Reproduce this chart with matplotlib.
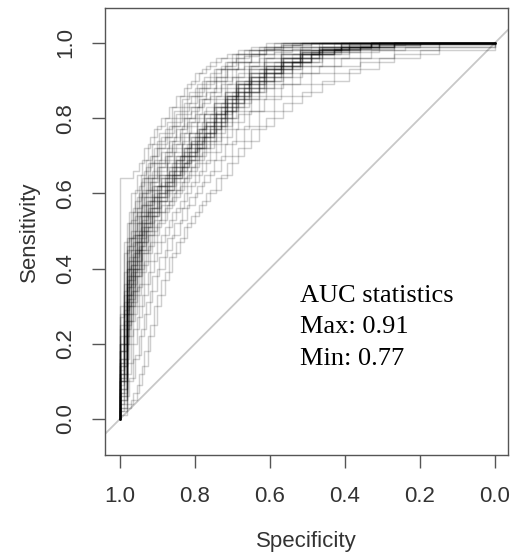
import matplotlib
matplotlib.use("Agg")
import matplotlib.pyplot as plt

# Specificity grids (three grids, step positions)
spec_grid_a = [1.00, 0.98, 0.965, 0.95, 0.935, 0.92, 0.90, 0.88, 0.86, 0.84, 0.82, 0.80, 0.78,
               0.76, 0.73, 0.70, 0.67, 0.63, 0.59, 0.54, 0.49, 0.43, 0.36, 0.27, 0.15, 0.00]
spec_grid_b = [1.00, 0.98, 0.97, 0.955, 0.94, 0.925, 0.91, 0.89, 0.87, 0.85, 0.83, 0.81, 0.79,
               0.77, 0.745, 0.715, 0.685, 0.65, 0.61, 0.565, 0.515, 0.46, 0.39, 0.31, 0.20, 0.00]
spec_grid_c = [1.00, 0.99, 0.975, 0.96, 0.945, 0.93, 0.915, 0.895, 0.875, 0.855, 0.835, 0.815, 0.795,
               0.775, 0.75, 0.72, 0.69, 0.655, 0.615, 0.57, 0.52, 0.47, 0.41, 0.33, 0.24, 0.00]

# Sensitivity of each bootstrap ROC curve at the grid specificities
sens_a = [
    [0.64, 0.64, 0.66, 0.68, 0.72, 0.75, 0.78, 0.80, 0.83, 0.86, 0.89, 0.92, 0.93, 0.95, 0.96, 0.97, 0.98, 0.99, 1.0, 1.0, 1.0, 1.0, 1.0, 1.0, 1.0, 1.0],
    [0.20, 0.45, 0.55, 0.60, 0.64, 0.68, 0.72, 0.75, 0.78, 0.80, 0.83, 0.86, 0.88, 0.90, 0.93, 0.95, 0.965, 0.98, 0.99, 0.995, 1.0, 1.0, 1.0, 1.0, 1.0, 1.0],
    [0.10, 0.30, 0.40, 0.47, 0.52, 0.56, 0.60, 0.63, 0.65, 0.68, 0.70, 0.73, 0.75, 0.78, 0.82, 0.85, 0.88, 0.91, 0.93, 0.95, 0.97, 0.98, 0.99, 1.0, 1.0, 1.0],
    [0.05, 0.22, 0.30, 0.36, 0.42, 0.47, 0.52, 0.56, 0.59, 0.62, 0.65, 0.68, 0.71, 0.74, 0.78, 0.82, 0.85, 0.88, 0.91, 0.94, 0.96, 0.975, 0.985, 0.995, 1.0, 1.0],
    [0.02, 0.04, 0.07, 0.12, 0.18, 0.25, 0.33, 0.39, 0.44, 0.48, 0.52, 0.55, 0.58, 0.61, 0.65, 0.70, 0.74, 0.78, 0.82, 0.86, 0.89, 0.92, 0.95, 0.97, 0.99, 1.0],
    [0.15, 0.38, 0.47, 0.54, 0.59, 0.63, 0.67, 0.70, 0.73, 0.76, 0.79, 0.81, 0.84, 0.86, 0.89, 0.91, 0.94, 0.96, 0.975, 0.985, 0.99, 1.0, 1.0, 1.0, 1.0, 1.0],
    [0.18, 0.33, 0.43, 0.49, 0.54, 0.58, 0.62, 0.64, 0.67, 0.70, 0.72, 0.75, 0.77, 0.79, 0.83, 0.86, 0.89, 0.92, 0.94, 0.96, 0.975, 0.985, 0.99, 1.0, 1.0, 1.0],
    [0.08, 0.26, 0.34, 0.40, 0.45, 0.50, 0.55, 0.58, 0.61, 0.64, 0.67, 0.70, 0.72, 0.75, 0.79, 0.83, 0.86, 0.89, 0.92, 0.95, 0.97, 0.98, 0.99, 1.0, 1.0, 1.0],
    [0.28, 0.48, 0.56, 0.62, 0.66, 0.70, 0.74, 0.77, 0.80, 0.83, 0.86, 0.88, 0.90, 0.92, 0.94, 0.96, 0.97, 0.98, 0.99, 1.0, 1.0, 1.0, 1.0, 1.0, 1.0, 1.0],
    [0.12, 0.36, 0.44, 0.50, 0.55, 0.59, 0.62, 0.65, 0.68, 0.70, 0.73, 0.76, 0.79, 0.81, 0.84, 0.87, 0.90, 0.93, 0.95, 0.97, 0.98, 0.99, 1.0, 1.0, 1.0, 1.0],
    [0.04, 0.15, 0.24, 0.30, 0.36, 0.42, 0.47, 0.51, 0.55, 0.58, 0.62, 0.65, 0.68, 0.71, 0.75, 0.79, 0.82, 0.86, 0.89, 0.92, 0.94, 0.96, 0.98, 0.99, 1.0, 1.0],
    [0.14, 0.31, 0.40, 0.46, 0.51, 0.55, 0.59, 0.62, 0.65, 0.67, 0.70, 0.72, 0.75, 0.77, 0.80, 0.84, 0.87, 0.90, 0.92, 0.95, 0.97, 0.98, 0.99, 1.0, 1.0, 1.0],
    [0.22, 0.40, 0.49, 0.55, 0.60, 0.64, 0.68, 0.71, 0.74, 0.77, 0.80, 0.83, 0.85, 0.87, 0.90, 0.93, 0.95, 0.97, 0.98, 0.99, 1.0, 1.0, 1.0, 1.0, 1.0, 1.0],
    [0.03, 0.10, 0.16, 0.22, 0.28, 0.34, 0.40, 0.45, 0.49, 0.53, 0.57, 0.60, 0.63, 0.66, 0.70, 0.74, 0.78, 0.82, 0.86, 0.89, 0.92, 0.94, 0.96, 0.98, 0.995, 1.0],
    [0.10, 0.28, 0.38, 0.45, 0.50, 0.54, 0.58, 0.61, 0.64, 0.66, 0.69, 0.72, 0.74, 0.77, 0.81, 0.84, 0.87, 0.90, 0.93, 0.95, 0.97, 0.985, 0.99, 1.0, 1.0, 1.0],
]
sens_b = [
    [0.10, 0.35, 0.42, 0.49, 0.54, 0.58, 0.62, 0.65, 0.67, 0.70, 0.72, 0.75, 0.77, 0.80, 0.83, 0.86, 0.89, 0.92, 0.94, 0.96, 0.975, 0.985, 0.995, 1.0, 1.0, 1.0],
    [0.16, 0.40, 0.48, 0.55, 0.60, 0.64, 0.68, 0.71, 0.74, 0.77, 0.80, 0.82, 0.85, 0.87, 0.90, 0.93, 0.95, 0.97, 0.98, 0.99, 1.0, 1.0, 1.0, 1.0, 1.0, 1.0],
    [0.06, 0.24, 0.31, 0.38, 0.44, 0.49, 0.53, 0.57, 0.60, 0.63, 0.66, 0.69, 0.72, 0.74, 0.78, 0.82, 0.85, 0.88, 0.91, 0.94, 0.96, 0.975, 0.99, 0.995, 1.0, 1.0],
    [0.25, 0.46, 0.53, 0.59, 0.64, 0.68, 0.72, 0.75, 0.78, 0.81, 0.84, 0.86, 0.88, 0.90, 0.93, 0.95, 0.97, 0.98, 0.99, 1.0, 1.0, 1.0, 1.0, 1.0, 1.0, 1.0],
    [0.12, 0.30, 0.39, 0.45, 0.50, 0.55, 0.59, 0.62, 0.65, 0.67, 0.70, 0.73, 0.75, 0.78, 0.81, 0.85, 0.88, 0.91, 0.93, 0.95, 0.97, 0.985, 0.99, 1.0, 1.0, 1.0],
    [0.03, 0.12, 0.20, 0.27, 0.33, 0.39, 0.44, 0.49, 0.53, 0.56, 0.60, 0.63, 0.66, 0.69, 0.73, 0.77, 0.81, 0.85, 0.88, 0.91, 0.94, 0.96, 0.975, 0.99, 1.0, 1.0],
    [0.20, 0.37, 0.45, 0.52, 0.57, 0.61, 0.65, 0.68, 0.71, 0.73, 0.76, 0.79, 0.81, 0.83, 0.86, 0.89, 0.92, 0.94, 0.96, 0.98, 0.99, 1.0, 1.0, 1.0, 1.0, 1.0],
    [0.08, 0.28, 0.36, 0.42, 0.47, 0.52, 0.56, 0.60, 0.63, 0.66, 0.68, 0.71, 0.74, 0.76, 0.80, 0.84, 0.87, 0.90, 0.92, 0.95, 0.97, 0.98, 0.99, 1.0, 1.0, 1.0],
    [0.01, 0.03, 0.05, 0.09, 0.14, 0.22, 0.30, 0.37, 0.43, 0.47, 0.51, 0.54, 0.57, 0.60, 0.64, 0.68, 0.72, 0.77, 0.80, 0.84, 0.87, 0.90, 0.93, 0.96, 0.98, 1.0],
    [0.14, 0.33, 0.41, 0.48, 0.53, 0.57, 0.61, 0.64, 0.66, 0.69, 0.72, 0.74, 0.77, 0.79, 0.82, 0.86, 0.89, 0.91, 0.94, 0.96, 0.975, 0.99, 1.0, 1.0, 1.0, 1.0],
    [0.30, 0.52, 0.60, 0.65, 0.69, 0.73, 0.77, 0.80, 0.83, 0.86, 0.88, 0.90, 0.92, 0.94, 0.96, 0.97, 0.98, 0.99, 1.0, 1.0, 1.0, 1.0, 1.0, 1.0, 1.0, 1.0],
    [0.05, 0.20, 0.28, 0.35, 0.41, 0.46, 0.51, 0.55, 0.58, 0.61, 0.64, 0.67, 0.70, 0.73, 0.77, 0.80, 0.84, 0.87, 0.90, 0.93, 0.95, 0.97, 0.985, 0.995, 1.0, 1.0],
    [0.11, 0.32, 0.41, 0.47, 0.52, 0.56, 0.60, 0.63, 0.66, 0.69, 0.71, 0.74, 0.76, 0.79, 0.83, 0.86, 0.89, 0.92, 0.94, 0.96, 0.98, 0.99, 1.0, 1.0, 1.0, 1.0],
    [0.18, 0.42, 0.50, 0.56, 0.61, 0.65, 0.69, 0.72, 0.75, 0.78, 0.81, 0.83, 0.86, 0.88, 0.91, 0.93, 0.95, 0.97, 0.985, 0.995, 1.0, 1.0, 1.0, 1.0, 1.0, 1.0],
    [0.07, 0.25, 0.34, 0.41, 0.47, 0.51, 0.55, 0.59, 0.62, 0.65, 0.68, 0.70, 0.73, 0.76, 0.79, 0.83, 0.86, 0.89, 0.92, 0.94, 0.96, 0.98, 0.99, 1.0, 1.0, 1.0],
]
sens_c = [
    [0.12, 0.28, 0.38, 0.45, 0.51, 0.55, 0.59, 0.62, 0.65, 0.68, 0.71, 0.73, 0.76, 0.78, 0.81, 0.85, 0.88, 0.91, 0.93, 0.95, 0.97, 0.98, 0.99, 1.0, 1.0, 1.0],
    [0.20, 0.36, 0.46, 0.52, 0.57, 0.61, 0.64, 0.67, 0.70, 0.72, 0.75, 0.78, 0.80, 0.82, 0.85, 0.88, 0.91, 0.94, 0.96, 0.97, 0.98, 0.99, 1.0, 1.0, 1.0, 1.0],
    [0.06, 0.20, 0.30, 0.38, 0.44, 0.49, 0.54, 0.58, 0.61, 0.64, 0.67, 0.70, 0.72, 0.75, 0.79, 0.82, 0.86, 0.89, 0.92, 0.94, 0.96, 0.98, 0.99, 1.0, 1.0, 1.0],
    [0.15, 0.34, 0.43, 0.50, 0.55, 0.59, 0.63, 0.66, 0.69, 0.71, 0.74, 0.76, 0.79, 0.81, 0.84, 0.87, 0.90, 0.93, 0.95, 0.97, 0.98, 0.99, 1.0, 1.0, 1.0, 1.0],
    [0.09, 0.26, 0.35, 0.42, 0.48, 0.52, 0.56, 0.60, 0.63, 0.66, 0.69, 0.71, 0.74, 0.76, 0.80, 0.83, 0.87, 0.90, 0.92, 0.95, 0.97, 0.98, 0.99, 1.0, 1.0, 1.0],
    [0.24, 0.44, 0.52, 0.58, 0.63, 0.67, 0.70, 0.73, 0.76, 0.79, 0.82, 0.84, 0.87, 0.89, 0.91, 0.94, 0.96, 0.97, 0.985, 0.995, 1.0, 1.0, 1.0, 1.0, 1.0, 1.0],
    [0.04, 0.16, 0.26, 0.33, 0.39, 0.44, 0.49, 0.53, 0.57, 0.60, 0.63, 0.66, 0.69, 0.72, 0.76, 0.80, 0.83, 0.87, 0.90, 0.93, 0.95, 0.97, 0.985, 0.995, 1.0, 1.0],
    [0.13, 0.31, 0.40, 0.47, 0.52, 0.57, 0.61, 0.64, 0.67, 0.69, 0.72, 0.75, 0.77, 0.80, 0.83, 0.86, 0.89, 0.92, 0.94, 0.96, 0.975, 0.985, 0.995, 1.0, 1.0, 1.0],
    [0.18, 0.39, 0.48, 0.54, 0.59, 0.63, 0.66, 0.69, 0.72, 0.75, 0.78, 0.80, 0.83, 0.85, 0.88, 0.91, 0.93, 0.95, 0.97, 0.98, 0.99, 1.0, 1.0, 1.0, 1.0, 1.0],
    [0.10, 0.24, 0.33, 0.40, 0.46, 0.51, 0.55, 0.59, 0.62, 0.65, 0.68, 0.71, 0.73, 0.76, 0.80, 0.84, 0.87, 0.90, 0.93, 0.95, 0.97, 0.98, 0.99, 1.0, 1.0, 1.0],
    [0.02, 0.06, 0.11, 0.17, 0.24, 0.31, 0.38, 0.43, 0.48, 0.52, 0.56, 0.59, 0.62, 0.65, 0.69, 0.73, 0.77, 0.82, 0.85, 0.89, 0.92, 0.94, 0.96, 0.98, 0.99, 1.0],
    [0.16, 0.33, 0.42, 0.49, 0.54, 0.58, 0.62, 0.65, 0.68, 0.70, 0.73, 0.76, 0.78, 0.81, 0.84, 0.87, 0.90, 0.93, 0.95, 0.97, 0.98, 0.99, 1.0, 1.0, 1.0, 1.0],
    [0.11, 0.29, 0.37, 0.44, 0.49, 0.54, 0.58, 0.61, 0.64, 0.67, 0.70, 0.72, 0.75, 0.78, 0.81, 0.85, 0.88, 0.91, 0.93, 0.96, 0.97, 0.985, 0.99, 1.0, 1.0, 1.0],
    [0.27, 0.47, 0.55, 0.61, 0.65, 0.69, 0.73, 0.76, 0.79, 0.82, 0.85, 0.87, 0.89, 0.91, 0.93, 0.95, 0.97, 0.98, 0.99, 1.0, 1.0, 1.0, 1.0, 1.0, 1.0, 1.0],
    [0.07, 0.22, 0.32, 0.39, 0.45, 0.50, 0.54, 0.58, 0.61, 0.64, 0.67, 0.69, 0.72, 0.75, 0.78, 0.82, 0.85, 0.88, 0.91, 0.94, 0.96, 0.975, 0.99, 1.0, 1.0, 1.0],
]

x_ticks = [1.0, 0.8, 0.6, 0.4, 0.2, 0.0]
y_ticks = [0.0, 0.2, 0.4, 0.6, 0.8, 1.0]
tick_labels_x = ["1.0", "0.8", "0.6", "0.4", "0.2", "0.0"]
tick_labels_y = ["0.0", "0.2", "0.4", "0.6", "0.8", "1.0"]
auc_lines = ["AUC statistics", "Max: 0.91", "Min: 0.77"]

plt.rcParams['font.family'] = ['Liberation Sans', 'DejaVu Sans']

fig = plt.figure(figsize=(5.12, 5.54), dpi=100)
ax = fig.add_axes([105/512, (554-455)/554, (508-105)/512, (455-8)/554])

# identity line
ax.axline((1.0, 0.0), (0.0, 1.0), color='#c8c8c8', lw=1.3, zorder=1)

for grid, curves in ((spec_grid_a, sens_a), (spec_grid_b, sens_b), (spec_grid_c, sens_c)):
    for s in curves:
        ax.step([1.0] + grid, [0.0] + s, where='post', color='black',
                alpha=0.19, lw=1.05, zorder=2)

ax.set_xlim(1.04, -0.035)
ax.set_ylim(-0.096, 1.093)
ax.set_xticks(x_ticks)
ax.set_xticklabels(tick_labels_x)
ax.set_yticks(y_ticks)
ax.set_yticklabels(tick_labels_y, rotation=90, va='center')

for sp in ax.spines.values():
    sp.set_color('#555555')
    sp.set_linewidth(1.0)
ax.tick_params(axis='both', direction='out', length=9.5, width=1.0, color='#555555',
               labelsize=16, labelcolor='#333333')
ax.tick_params(axis='x', pad=13)
ax.tick_params(axis='y', pad=11)

ax.set_xlabel("Specificity", fontsize=16, color='#333333', labelpad=17)
ax.set_ylabel("Sensitivity", fontsize=16, color='#333333', labelpad=11)

ys = [0.311, 0.228, 0.144]
for txt, yv in zip(auc_lines, ys):
    ax.text(0.52, yv, txt, family='Liberation Serif', fontsize=19, color='black',
            ha='left', va='baseline')

fig.savefig("out.png", dpi=100)
